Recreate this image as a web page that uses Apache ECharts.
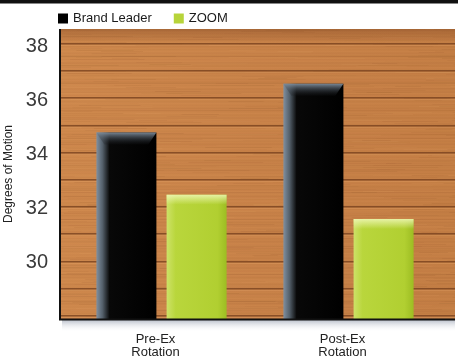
<!DOCTYPE html>
<html>
<head>
<meta charset="utf-8">
<script src="https://cdn.jsdelivr.net/npm/echarts@6/dist/echarts.min.js"></script>
<style>
html,body{margin:0;padding:0;background:#fff;}
#chart{width:458px;height:356px;}
</style>
</head>
<body>
<div id="chart"></div>
<script>
// ---- data ----
var categories = ['Pre-Ex\nRotation', 'Post-Ex\nRotation'];
var seriesNames = ['Brand Leader', 'ZOOM'];
var brandLeader = [34.8, 36.6];
var zoom = [32.5, 31.6];
var yTicks = [30, 32, 34, 36, 38];
var yTitle = 'Degrees of Motion';

// ---- wood texture (decorative background) ----
function makeWood(w, h) {
  var c = document.createElement('canvas');
  c.width = w; c.height = h;
  var g = c.getContext('2d');
  var base = g.createLinearGradient(0, 0, w, 0);
  base.addColorStop(0, 'rgb(208,138,78)');
  base.addColorStop(0.5, 'rgb(202,132,74)');
  base.addColorStop(1, 'rgb(198,128,70)');
  g.fillStyle = base;
  g.fillRect(0, 0, w, h);
  // fine grain
  for (var y = 0; y < h; y++) {
    var a = 0.035 + 0.03 * Math.sin(y * 1.93) + 0.025 * Math.sin(y * 0.71 + 2.1);
    if (a > 0) {
      g.fillStyle = 'rgba(120,62,25,' + a.toFixed(3) + ')';
      g.fillRect(0, y, w, 1);
    }
    for (var s = 0; s < 3; s++) {
      var x0 = ((Math.sin(y * 3.1 + s * 7.3) + 1) / 2) * w;
      var len = 25 + 50 * ((Math.sin(y * 1.3 + s * 2.2) + 1) / 2);
      var b = 0.04 + 0.05 * Math.sin(y * 0.9 + s);
      if (b > 0) {
        g.fillStyle = (s % 2 ? 'rgba(235,175,115,' : 'rgba(125,68,30,') + b.toFixed(3) + ')';
        g.fillRect(x0, y, len, 1);
      }
    }
  }
  // top streaky darker band
  var tg = g.createLinearGradient(0, 0, 0, 14);
  tg.addColorStop(0, 'rgba(130,72,35,0.45)');
  tg.addColorStop(1, 'rgba(130,72,35,0)');
  g.fillStyle = tg;
  g.fillRect(0, 0, w, 14);
  // plank seams
  for (var p = 14; p < h; p += 27.2) {
    var yy = Math.round(p);
    g.fillStyle = 'rgba(115,62,28,0.75)';
    g.fillRect(0, yy, w, 1.5);
    g.fillStyle = 'rgba(230,165,105,0.3)';
    g.fillRect(0, yy + 2, w, 1);
    g.fillStyle = 'rgba(130,72,35,0.12)';
    g.fillRect(0, yy + 13, w, 1);
  }
  return c;
}
var wood = makeWood(395, 290);

var chart = echarts.init(document.getElementById('chart'), null, {renderer: 'canvas'});
var font = '"Liberation Sans", Arial, sans-serif';
var BAR_W = 60;
var BAR_OFF = 35.1;

// top bevel highlight, positioned through the axes (api.coord)
var bevelData = [];
brandLeader.forEach(function (v, i) { bevelData.push([i, v, 0]); });
zoom.forEach(function (v, i) { bevelData.push([i, v, 1]); });

function renderBevel(params, api) {
  var s = api.value(2);
  var pt = api.coord([api.value(0), api.value(1)]);
  var cx = pt[0] + (s === 0 ? -BAR_OFF : BAR_OFF);
  var left = cx - BAR_W / 2;
  var top = pt[1];
  if (s === 0) {
    return {
      type: 'polygon',
      shape: {points: [[left, top], [left + BAR_W, top], [left + BAR_W - 8, top + 12], [left + 8, top + 12]]},
      style: {fill: new echarts.graphic.LinearGradient(0, 0, 0, 1, [
        {offset: 0, color: 'rgba(125,140,155,0.95)'},
        {offset: 1, color: 'rgba(20,22,25,0.2)'}])}
    };
  }
  return {
    type: 'rect',
    shape: {x: left, y: top, width: BAR_W, height: 10},
    style: {fill: new echarts.graphic.LinearGradient(0, 0, 0, 1, [
      {offset: 0, color: 'rgba(240,248,185,0.85)'},
      {offset: 1, color: 'rgba(240,248,185,0)'}])}
  };
}

var option = {
  animation: false,
  backgroundColor: '#fff',
  grid: {left: 68, right: 16, top: 29, bottom: 37, containLabel: false, outerBoundsMode: 'none'},
  legend: {
    left: 58, top: 12, padding: 0,
    itemWidth: 10, itemHeight: 10, itemGap: 22,
    icon: 'rect',
    textStyle: {fontFamily: font, fontSize: 13, color: '#1a1a1a'},
    data: [
      {name: seriesNames[0], itemStyle: {color: '#000'}},
      {name: seriesNames[1], itemStyle: {color: '#b7d43a'}}
    ]
  },
  graphic: [
    {type: 'rect', z: -10, shape: {x: 0, y: 0, width: 458, height: 3.5}, style: {fill: '#111'}},
    {type: 'image', z: -10, style: {image: wood, x: 60, y: 29, width: 395, height: 290}},
    {type: 'rect', z: -10, shape: {x: 62, y: 320, width: 393, height: 12},
      style: {fill: new echarts.graphic.LinearGradient(0, 0, 0, 1, [
        {offset: 0, color: 'rgba(130,140,160,0.55)'},
        {offset: 1, color: 'rgba(255,255,255,0)'}])}},
    {type: 'rect', z: 100, shape: {x: 59, y: 29, width: 2, height: 291}, style: {fill: '#111'}},
    {type: 'rect', z: 100, shape: {x: 59, y: 318.5, width: 396, height: 2}, style: {fill: '#111'}}
  ],
  xAxis: {
    type: 'category',
    data: categories,
    axisLine: {show: false},
    axisTick: {show: false},
    axisLabel: {
      fontFamily: font, fontSize: 13, lineHeight: 13, color: '#222',
      margin: 14, padding: [0, 12, 0, 0]
    }
  },
  yAxis: {
    type: 'value',
    min: 27.9, max: 38.63,
    splitNumber: 5,
    name: yTitle,
    nameLocation: 'middle',
    nameGap: 51,
    nameTextStyle: {fontFamily: font, fontSize: 12, color: '#222'},
    axisLine: {show: false},
    axisTick: {show: false},
    splitLine: {show: false},
    axisLabel: {
      fontFamily: font, fontSize: 20, color: '#3a3a3a', margin: 20,
      formatter: function (v) { return yTicks.indexOf(v) >= 0 ? String(v) : ''; }
    }
  },
  series: [
    {
      name: seriesNames[0], type: 'bar', data: brandLeader,
      barWidth: BAR_W, barGap: '17%',
      itemStyle: {color: new echarts.graphic.LinearGradient(0, 0, 1, 0, [
        {offset: 0, color: '#8090a0'},
        {offset: 0.1, color: '#55616c'},
        {offset: 0.22, color: '#080808'},
        {offset: 1, color: '#000'}])}
    },
    {
      name: seriesNames[1], type: 'bar', data: zoom,
      barWidth: BAR_W, barGap: '17%',
      itemStyle: {color: new echarts.graphic.LinearGradient(0, 0, 1, 0, [
        {offset: 0, color: '#cde268'},
        {offset: 0.15, color: '#b9d63c'},
        {offset: 0.85, color: '#b1cf31'},
        {offset: 1, color: '#9dbd22'}])}
    },
    {
      name: 'bevel', type: 'custom', data: bevelData, silent: true, z: 3,
      renderItem: renderBevel, tooltip: {show: false}
    }
  ]
};
chart.setOption(option);
</script>
</body>
</html>
